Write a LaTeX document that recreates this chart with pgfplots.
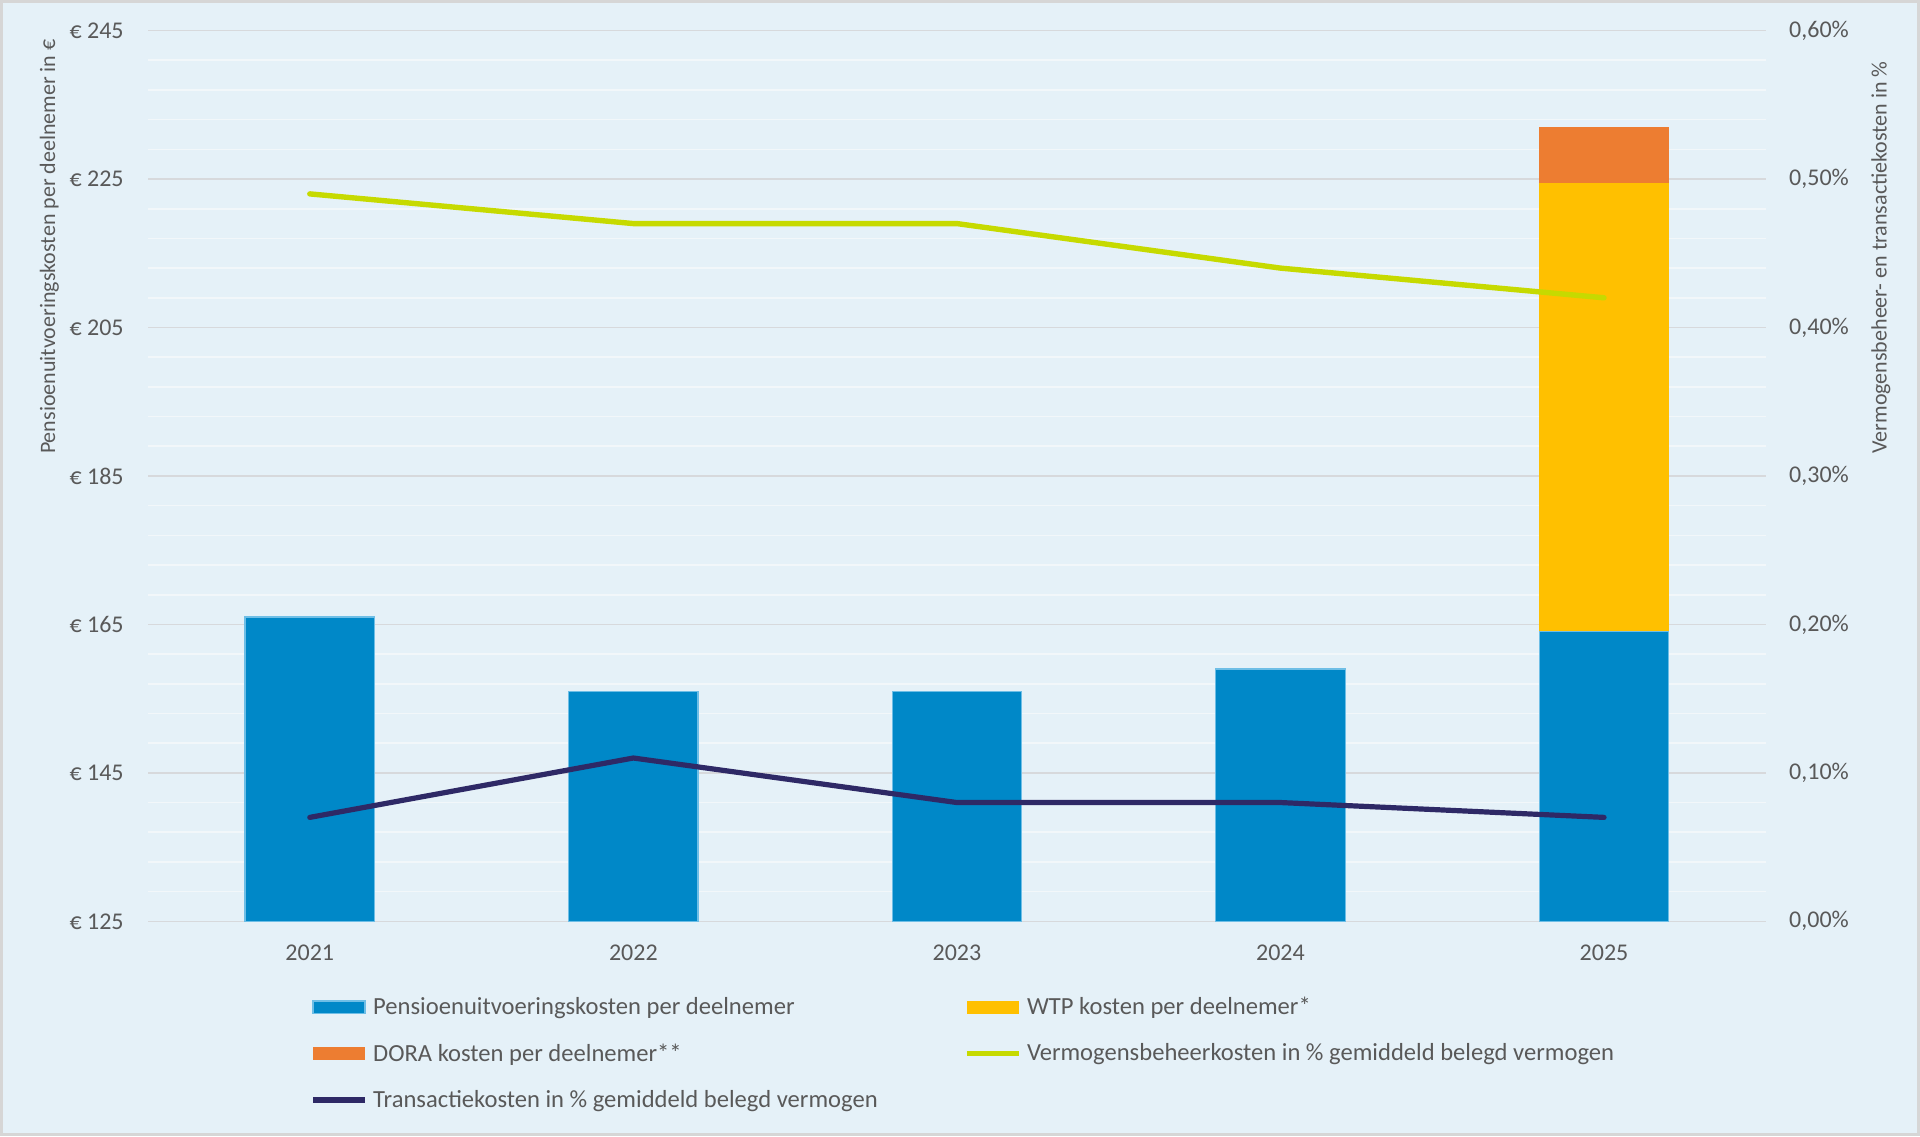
\documentclass[border=0pt]{standalone}
\usepackage{fontspec}
\setmainfont{Carlito}
\usepackage{pgfplots}
\pgfplotsset{compat=1.18}
\definecolor{bg}{RGB}{229,241,248}
\definecolor{bordergray}{RGB}{214,214,214}
\definecolor{gridmajor}{RGB}{215,217,220}
\definecolor{gridminor}{RGB}{242,247,250}
\definecolor{textgray}{RGB}{89,89,89}
\definecolor{barblue}{RGB}{0,136,200}
\definecolor{baredge}{RGB}{110,190,230}
\definecolor{wtp}{RGB}{255,192,0}
\definecolor{dora}{RGB}{237,125,49}
\definecolor{greenline}{RGB}{198,218,0}
\definecolor{navyline}{RGB}{46,41,102}
\pgfplotsset{
  mybarlegend/.style={legend image code/.code={\draw[##1] (0pt,-3.2pt) rectangle (26pt,3.2pt); \path (27.3pt,0pt);}},
  myfilllegend/.style={legend image code/.code={\fill[##1] (0pt,-3.2pt) rectangle (26pt,3.2pt); \path (27.3pt,0pt);}},
  mylinelegend/.style={legend image code/.code={\draw[##1] (0pt,0pt) -- (26pt,0pt); \path (27.3pt,0pt);}},
}
\begin{document}
\begin{tikzpicture}
\fill[bg] (0,0) rectangle (960pt,568pt);
\draw[bordergray, line width=1.5pt] (0.75pt,0.75pt) rectangle (959.25pt,567.25pt);
\useasboundingbox (0,0) rectangle (960pt,568pt);
\begin{axis}[
  at={(74pt,107.35pt)}, anchor=south west,
  scale only axis, width=808.9pt, height=445.35pt,
  ybar stacked, bar width=0.4,
  xmin=-0.5, xmax=4.5, ymin=125, ymax=245,
  xtick={0,1,2,3,4}, xticklabels={2021,2022,2023,2024,2025},
  ytick={125,145,165,185,205,225,245},
  yticklabels={€ 125,€ 145,€ 165,€ 185,€ 205,€ 225,€ 245},
  minor y tick num=4,
  ymajorgrids, yminorgrids,
  major grid style={gridmajor, line width=0.8pt},
  minor grid style={gridminor, line width=0.8pt},
  axis line style={draw=none},
  major tick length=0pt, minor tick length=0pt,
  tick label style={font=\fontsize{12}{14}\selectfont, text=textgray},
  xticklabel style={anchor=center, yshift=-15.9pt},
  yticklabel style={anchor=east, inner sep=0pt, xshift=-12pt},
  legend columns=2,
  legend cell align=left,
  legend style={draw=none, fill=none, at={(axis description cs:0,0)}, anchor=north west,
    xshift=81pt, yshift=-36.2pt, font=\fontsize{12.3}{14}\selectfont, text=textgray,
    inner sep=0pt, row sep=10pt, nodes={inner sep=1.5pt}},
]
\addplot[fill=barblue, draw=baredge, line width=0.6pt, mybarlegend] coordinates {(0,166) (1,156) (2,156) (3,159) (4,164)};
\addlegendentry{\makebox[294pt][l]{Pensioenuitvoeringskosten per deelnemer}}
\addplot[fill=wtp, draw=none, myfilllegend] coordinates {(0,0) (1,0) (2,0) (3,0) (4,60.5)};
\addlegendentry{WTP kosten per deelnemer*}
\addplot[fill=dora, draw=none, myfilllegend] coordinates {(0,0) (1,0) (2,0) (3,0) (4,7.5)};
\addlegendentry{\makebox[294pt][l]{DORA kosten per deelnemer**}}
\addlegendimage{greenline, line width=2.6pt, mylinelegend}
\addlegendentry{Vermogensbeheerkosten in \% gemiddeld belegd vermogen}
\addlegendimage{navyline, line width=2.6pt, mylinelegend}
\addlegendentry{\makebox[294pt][l]{Transactiekosten in \% gemiddeld belegd vermogen}}
\end{axis}
\begin{axis}[
  at={(74pt,107.35pt)}, anchor=south west,
  scale only axis, width=808.9pt, height=445.35pt,
  xmin=-0.5, xmax=4.5, ymin=0, ymax=0.6,
  axis y line*=right, axis x line=none,
  ytick={0,0.1,0.2,0.3,0.4,0.5,0.6},
  yticklabels={{0,00\%},{0,10\%},{0,20\%},{0,30\%},{0,40\%},{0,50\%},{0,60\%}},
  axis line style={draw=none},
  major tick length=0pt,
  tick label style={font=\fontsize{12}{14}\selectfont, text=textgray},
  yticklabel style={anchor=west, inner sep=0pt, xshift=11.5pt},
]
\addplot[greenline, line width=2.7pt, line join=round, line cap=round] coordinates {(0,0.49) (1,0.47) (2,0.47) (3,0.44) (4,0.42)};
\addplot[navyline, line width=2.6pt, line join=round, line cap=round] coordinates {(0,0.07) (1,0.11) (2,0.08) (3,0.08) (4,0.07)};
\end{axis}
\node[rotate=90, anchor=base east, inner sep=0pt, text=textgray, font=\fontsize{11}{13}\selectfont] at (27.5pt,548.5pt) {Pensioenuitvoeringskosten per deelnemer in €};
\node[rotate=90, anchor=base east, inner sep=0pt, text=textgray, font=\fontsize{11}{13}\selectfont] at (943.3pt,537.5pt) {Vermogensbeheer- en transactiekosten in \%};
\end{tikzpicture}
\end{document}
